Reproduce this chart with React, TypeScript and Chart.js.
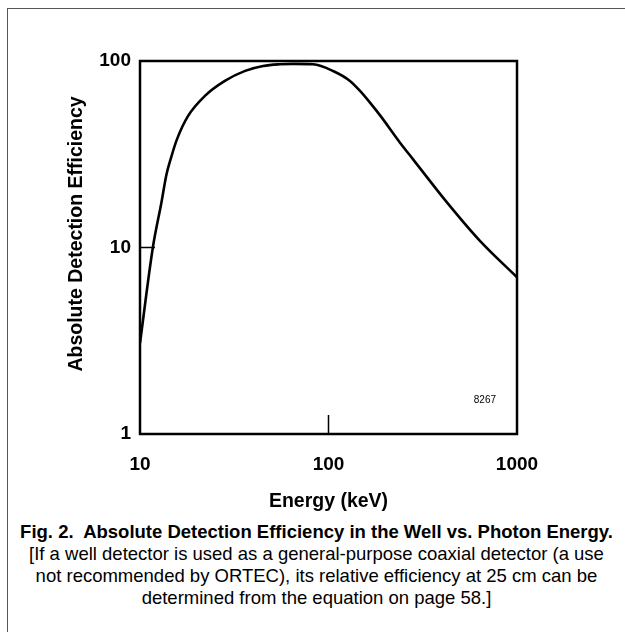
import React, { useEffect, useRef } from "react";
import { Chart, registerables } from "chart.js";

Chart.register(...registerables);

const energyKeV = [10, 11.7, 13.0, 13.8, 14.5, 15.7, 18.0, 22.1, 28.2, 36.1, 45, 55, 65, 82.8, 105.7, 130, 147, 166, 190, 239, 281, 425, 636, 1000];
const efficiency = [3.07, 10, 17.5, 24.5, 29.5, 38, 50.8, 65, 78.2, 88.5, 94, 96, 96.5, 96, 88.4, 78.2, 69.1, 59.8, 50.3, 36.6, 29.7, 17.45, 10.85, 6.92];
const xTicks = [10, 100, 1000];
const yTicks = [1, 10, 100];
const xTitle = "Energy (keV)";
const yTitle = "Absolute Detection Efficiency";
const figureId = "8267";
const captionTitle = "Fig. 2.  Absolute Detection Efficiency in the Well vs. Photon Energy.";
const captionLines = [
  "[If a well detector is used as a general-purpose coaxial detector (a use",
  "not recommended by ORTEC), its relative efficiency at 25 cm can be",
  "determined from the equation on page 58.]",
];

const FONT = "'Liberation Sans', Arial, Helvetica, sans-serif";

const framePlugin = {
  id: "frameAndMarks",
  afterDatasetsDraw(chart: any) {
    const { ctx, chartArea, scales } = chart;
    const { left, right, top, bottom } = chartArea;
    ctx.save();
    ctx.strokeStyle = "#000";
    ctx.lineWidth = 2.5;
    ctx.strokeRect(left, top, right - left, bottom - top);
    ctx.lineWidth = 1.5;
    const y10 = scales.y.getPixelForValue(10);
    ctx.beginPath();
    ctx.moveTo(left, y10);
    ctx.lineTo(left + 15, y10);
    const x100 = scales.x.getPixelForValue(100);
    ctx.moveTo(x100, bottom);
    ctx.lineTo(x100, bottom - 19);
    ctx.stroke();
    ctx.fillStyle = "#000";
    ctx.font = `10px ${FONT}`;
    ctx.textAlign = "right";
    ctx.textBaseline = "middle";
    ctx.fillText(figureId, right - 21, bottom - 34);
    ctx.restore();
  },
};

export default function App() {
  const ref = useRef<HTMLCanvasElement>(null);
  useEffect(() => {
    if (!ref.current) return;
    const chart = new Chart(ref.current, {
      type: "line",
      data: {
        datasets: [
          {
            data: energyKeV.map((e, i) => ({ x: e, y: efficiency[i] })),
            borderColor: "#000",
            borderWidth: 2.6,
            pointRadius: 0,
            cubicInterpolationMode: "monotone",
            fill: false,
          },
        ],
      },
      options: {
        responsive: false,
        animation: false,
        layout: { padding: { left: 0, top: 61, right: 108, bottom: 0 } },
        plugins: { legend: { display: false }, tooltip: { enabled: false } },
        scales: {
          x: {
            type: "logarithmic",
            min: 10,
            max: 1000,
            afterBuildTicks: (s: any) => {
              s.ticks = xTicks.map((v) => ({ value: v }));
            },
            afterFit: (s: any) => {
              s.height = 86;
            },
            grid: { display: false, drawTicks: false },
            border: { display: false },
            ticks: {
              color: "#000",
              font: { family: FONT, size: 19, weight: "bold" },
              padding: 19,
              maxRotation: 0,
              autoSkip: false,
              callback: (v: any) => String(v),
            },
            title: {
              display: true,
              text: xTitle,
              color: "#000",
              font: { family: FONT, size: 19.5, weight: "bold" },
              padding: { top: 0, bottom: 6.5 },
            },
          },
          y: {
            type: "logarithmic",
            min: 1,
            max: 100,
            afterBuildTicks: (s: any) => {
              s.ticks = yTicks.map((v) => ({ value: v }));
            },
            afterFit: (s: any) => {
              s.width = 140;
            },
            grid: { display: false, drawTicks: false },
            border: { display: false },
            ticks: {
              color: "#000",
              font: { family: FONT, size: 19, weight: "bold" },
              padding: 9,
              autoSkip: false,
              callback: (v: any) => String(v),
            },
            title: {
              display: true,
              text: "     " + yTitle,
              color: "#000",
              font: { family: FONT, size: 19.5, weight: "bold" },
              padding: { top: 65, bottom: 0 },
            },
          },
        },
      },
      plugins: [framePlugin],
    });
    return () => chart.destroy();
  }, []);

  return (
    <div style={{ position: "absolute", left: 0, top: 0, width: 625, height: 632, overflow: "hidden", background: "#fff" }}>
      <div
        style={{
          position: "absolute",
          left: 7,
          top: 8,
          width: 700,
          height: 700,
          borderLeft: "1.5px solid #555",
          borderTop: "1.5px solid #555",
        }}
      />
      <canvas ref={ref} width={625} height={520} style={{ position: "absolute", left: 0, top: 0, display: "block" }} />
      <div
        style={{
          position: "absolute",
          left: 8,
          top: 521,
          width: 617,
          textAlign: "center",
          fontFamily: FONT,
          fontSize: 18.5,
          lineHeight: "22px",
          color: "#000",
          whiteSpace: "nowrap",
        }}
      >
        <div style={{ fontWeight: "bold" }}>{captionTitle.replace("  ", "\u00a0 ")}</div>
        {captionLines.map((l, i) => (
          <div key={i}>{l}</div>
        ))}
      </div>
    </div>
  );
}
